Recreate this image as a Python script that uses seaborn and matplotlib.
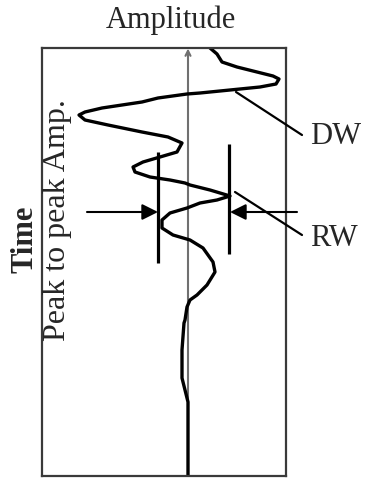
import matplotlib
matplotlib.use("Agg")
import matplotlib.pyplot as plt
import seaborn as sns
import pandas as pd

# ---- data ----
# amplitude (arbitrary units, 0 = zero line) and time (samples, 0 at top)
amplitude = [2.2, 2.9, 3.4, 4.9, 6.9, 8.5, 9.1, 8.8, 7.2, 5.2, 3.2, 1.2, -0.1,
             -3.0, -4.6, -6.6, -8.6, -10.3, -10.9, -10.3, -8.0, -4.6, -2.0,
             -0.6, -1.1, -2.8, -4.5, -5.5, -5.3, -3.8, -1.8, -0.3, 0.2, 2.2,
             4.2, 2.9, 1.2, -0.1, -1.8, -2.6, -2.6, -1.5, 0.2, 1.5, 2.5, 2.7,
             1.9, 0.9, 0.2, -0.1, -0.3, -0.4, -0.6, -0.6, -0.3, 0.0, 0.0]
time = [0, 6, 14, 19, 24, 28, 31, 36, 39, 41, 43, 45, 46,
        50, 54, 57, 60, 64, 67, 72, 77, 84, 89,
        95, 104, 109, 114, 119, 124, 129, 132, 135, 137, 142,
        148, 152, 155, 160, 165, 172, 180, 187, 192, 200, 214, 224,
        237, 247, 252, 259, 272, 275, 302, 330, 342, 354, 428]

amp_range = [-14.6, 9.8]
time_range = [0, 428]

# peak-to-peak markers: (amplitude, time start, time end)
peak_bars_amp = [-3.0, 4.1]
peak_bars_t0 = [104, 96]
peak_bars_t1 = [215, 206]
arrow_time = 164
arrow_from = [-10.1, 10.9]
arrow_to = [-3.0, 4.2]

labels = ["DW", "RW"]
pointer_start = [(4.8, 44), (4.7, 144)]
pointer_end = [(11.4, 87), (11.4, 187)]
label_pos = [(12.2, 88), (12.2, 190)]

title_text = "Amplitude"
ylabel_bold = "Time"
ylabel_text = "Peak to peak Amp."

# ---- figure ----
sns.set_style("white")
plt.rcParams['font.family'] = ['Liberation Serif', 'DejaVu Serif']

W, H = 369, 478
fig = plt.figure(figsize=(W / 100, H / 100), dpi=100)
ax = fig.add_axes([42 / W, 1 - 476 / H, 244 / W, 428 / H])

df = pd.DataFrame({"amplitude": amplitude, "time": time})
sns.lineplot(data=df, x="amplitude", y="time", sort=False, estimator=None,
             color="black", lw=2.4, ax=ax, solid_joinstyle="round",
             solid_capstyle="round")

ax.set_xlim(*amp_range)
ax.set_ylim(time_range[1], time_range[0])
ax.set_xticks([])
ax.set_yticks([])
ax.set_xlabel("")
ax.set_ylabel("")
for s in ax.spines.values():
    s.set_visible(True)
    s.set_color("#3a3a3a")
    s.set_linewidth(1.6)

# zero line with small open arrow head at top
ax.annotate("", xy=(0, 0.5), xytext=(0, time_range[1]),
            arrowprops=dict(arrowstyle="->", color="#707070", lw=1.5,
                            mutation_scale=9, shrinkA=0, shrinkB=0), zorder=1)

# peak to peak bars
for a, t0, t1 in zip(peak_bars_amp, peak_bars_t0, peak_bars_t1):
    ax.plot([a, a], [t0, t1], color="black", lw=2.3, solid_capstyle="butt")

# arrows
for a0, a1 in zip(arrow_from, arrow_to):
    ax.annotate("", xy=(a1, arrow_time), xytext=(a0, arrow_time),
                arrowprops=dict(arrowstyle="-|>", color="black", lw=1.5,
                                mutation_scale=24, shrinkA=0, shrinkB=0),
                annotation_clip=False)

# pointers and labels
for lab, p0, p1, lp in zip(labels, pointer_start, pointer_end, label_pos):
    ax.annotate("", xy=p1, xytext=p0,
                arrowprops=dict(arrowstyle="-", color="black", lw=1.6,
                                shrinkA=0, shrinkB=0),
                annotation_clip=False)
    ax.text(lp[0], lp[1], lab, ha="left", va="center", fontsize=22,
            clip_on=False)

fig.text(171 / W, 1 - 20 / H, title_text, ha="center", va="center", fontsize=22)
fig.text(25 / W, 1 - 239 / H, ylabel_bold, ha="center", va="center",
         fontsize=22, fontweight="bold", rotation=90)
fig.text(57 / W, 1 - 220 / H, ylabel_text, ha="center", va="center",
         fontsize=23, rotation=90)

fig.savefig("out.png", dpi=100)
